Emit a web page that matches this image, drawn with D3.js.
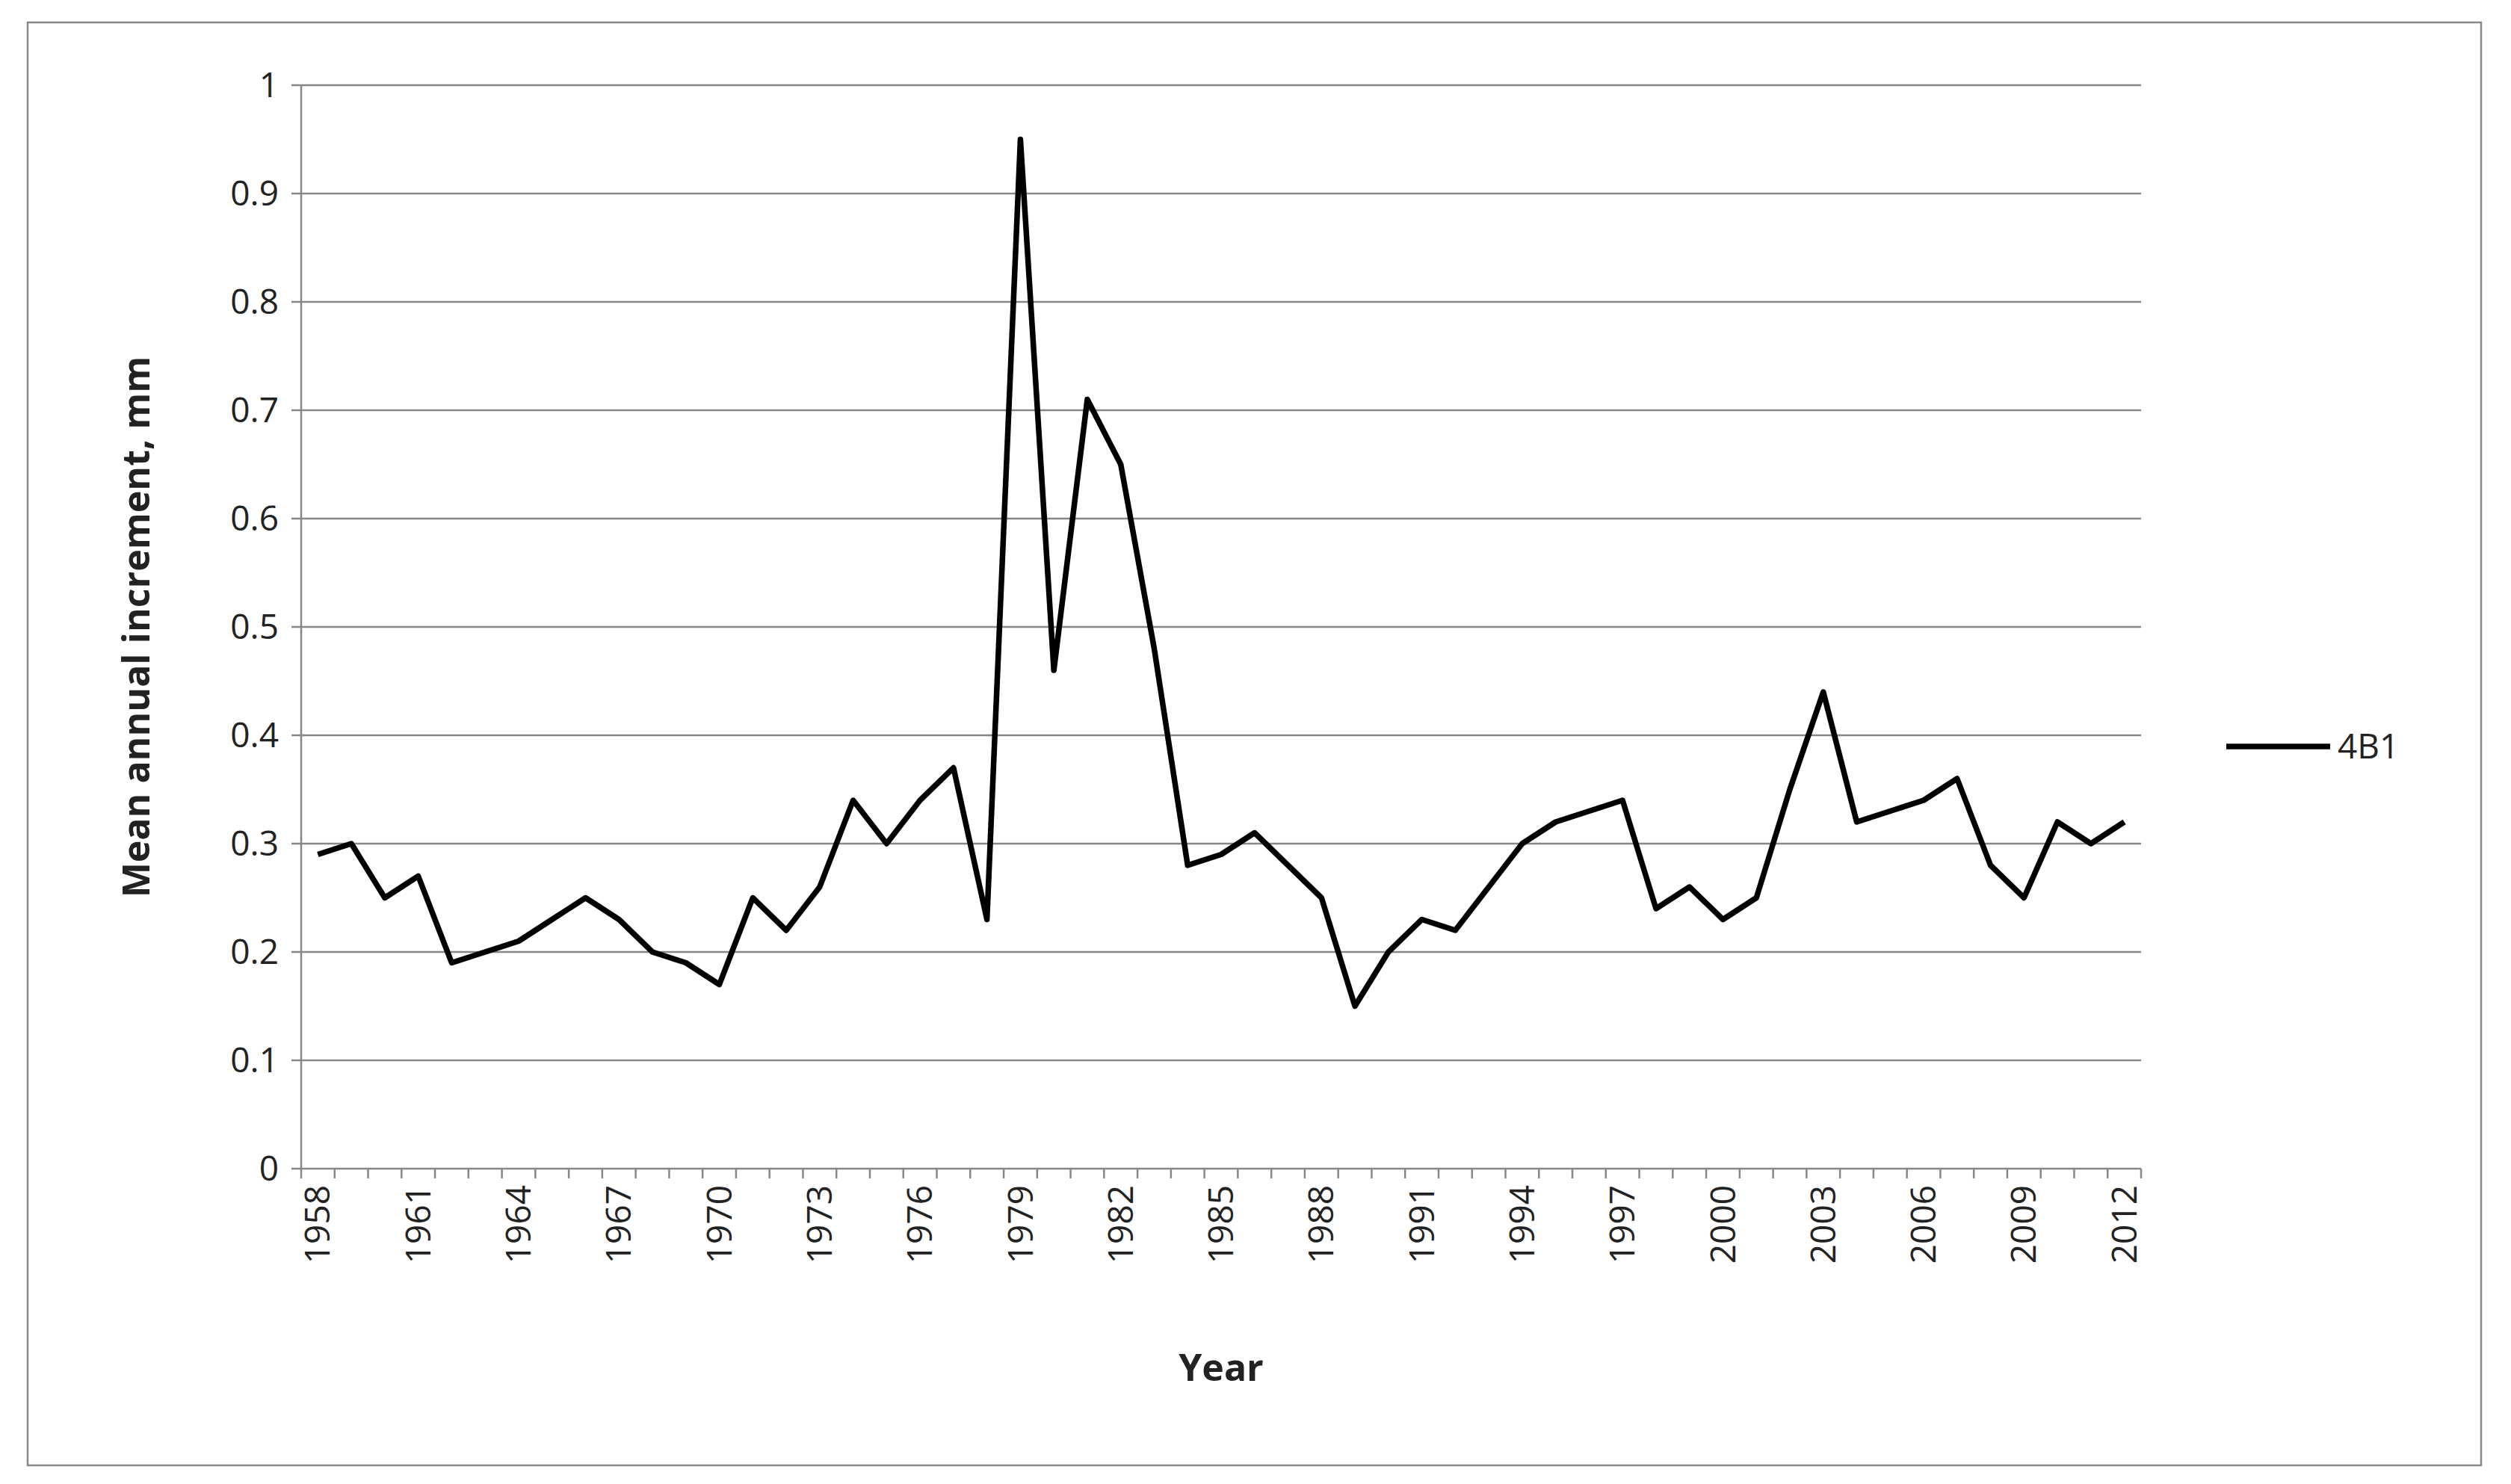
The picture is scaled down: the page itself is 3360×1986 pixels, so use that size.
<!DOCTYPE html>
<html><head><meta charset="utf-8">
<script src="https://cdn.jsdelivr.net/npm/d3@7"></script>
<style>body{margin:0;background:#fff}</style>
</head><body>
<script>
var years = d3.range(1958, 2013);
var values = [0.29,0.30,0.25,0.27,0.19,0.20,0.21,0.23,0.25,0.23,0.20,0.19,0.17,0.25,0.22,0.26,0.34,0.30,0.34,0.37,0.23,0.95,0.46,0.71,0.65,0.48,0.28,0.29,0.31,0.28,0.25,0.15,0.20,0.23,0.22,0.26,0.30,0.32,0.33,0.34,0.24,0.26,0.23,0.25,0.35,0.44,0.32,0.33,0.34,0.36,0.28,0.25,0.32,0.30,0.32];
var yTicks = [0,0.1,0.2,0.3,0.4,0.5,0.6,0.7,0.8,0.9,1];
var seriesName = "4B1";

var W = 3360, H = 1986;
var pLeft = 403, pRight = 2865, pTop = 114, pBottom = 1564;
var font = "'Open Sans', 'Liberation Sans', sans-serif";

var svg = d3.select("body").append("svg").attr("width", W).attr("height", H);
svg.append("rect").attr("x", 37).attr("y", 30).attr("width", 3283).attr("height", 1931)
    .attr("fill", "#fff").attr("stroke", "#888").attr("stroke-width", 2.5);

var x = d3.scaleBand().domain(years).range([pLeft, pRight]);
var y = d3.scaleLinear().domain([0, 1]).range([pBottom, pTop]);

// gridlines
svg.append("g").selectAll("line").data(yTicks.slice(1)).enter().append("line")
    .attr("x1", pLeft).attr("x2", pRight)
    .attr("y1", function (d) { return y(d); }).attr("y2", function (d) { return y(d); })
    .attr("stroke", "#878787").attr("stroke-width", 2.5);

// y axis
svg.append("line").attr("x1", pLeft).attr("x2", pLeft).attr("y1", pTop).attr("y2", pBottom)
    .attr("stroke", "#878787").attr("stroke-width", 2.5);
svg.append("g").selectAll("line").data(yTicks).enter().append("line")
    .attr("x1", pLeft - 13).attr("x2", pLeft)
    .attr("y1", function (d) { return y(d); }).attr("y2", function (d) { return y(d); })
    .attr("stroke", "#878787").attr("stroke-width", 2.5);
svg.append("g").selectAll("text").data(yTicks).enter().append("text")
    .attr("x", pLeft - 30).attr("y", function (d) { return y(d); })
    .attr("dy", "0.35em").attr("text-anchor", "end")
    .style("font-family", font).style("font-size", "46px").attr("fill", "#222")
    .text(function (d) { return d3.format("")(d); });

// x axis
svg.append("line").attr("x1", pLeft).attr("x2", pRight).attr("y1", pBottom).attr("y2", pBottom)
    .attr("stroke", "#878787").attr("stroke-width", 2.5);
svg.append("g").selectAll("line").data(years.concat([2013])).enter().append("line")
    .attr("x1", function (d) { return d === 2013 ? pRight : x(d); })
    .attr("x2", function (d) { return d === 2013 ? pRight : x(d); })
    .attr("y1", pBottom).attr("y2", pBottom + 13)
    .attr("stroke", "#878787").attr("stroke-width", 2.5);
svg.append("g").selectAll("text").data(years.filter(function (d) { return (d - 1958) % 3 === 0; }))
    .enter().append("text")
    .attr("transform", function (d) {
        return "translate(" + (x(d) + x.bandwidth() / 2) + "," + (pBottom + 22) + ") rotate(-90)";
    })
    .attr("dy", "0.35em").attr("text-anchor", "end")
    .style("font-family", font).style("font-size", "46px").attr("fill", "#222")
    .text(function (d) { return d; });

// titles
svg.append("text").attr("x", (pLeft + pRight) / 2).attr("y", 1848).attr("text-anchor", "middle")
    .style("font-family", font).style("font-size", "50px").style("font-weight", "bold")
    .attr("fill", "#222").text("Year");
svg.append("text").attr("transform", "translate(182," + ((pTop + pBottom) / 2) + ") rotate(-90)")
    .attr("dy", "0.35em").attr("text-anchor", "middle")
    .style("font-family", font).style("font-size", "50px").style("font-weight", "bold")
    .attr("fill", "#222").text("Mean annual increment, mm");

// series
var line = d3.line()
    .x(function (d, i) { return x(years[i]) + x.bandwidth() / 2; })
    .y(function (d) { return y(d); });
svg.append("path").datum(values).attr("d", line)
    .attr("fill", "none").attr("stroke", "#000").attr("stroke-width", 7.5)
    .attr("stroke-linejoin", "round");

// legend
svg.append("line").attr("x1", 2979).attr("x2", 3118).attr("y1", 999).attr("y2", 999)
    .attr("stroke", "#000").attr("stroke-width", 7.5);
svg.append("text").attr("x", 3128).attr("y", 999).attr("dy", "0.35em")
    .style("font-family", font).style("font-size", "46px").attr("fill", "#222").text(seriesName);
</script>
</body></html>
